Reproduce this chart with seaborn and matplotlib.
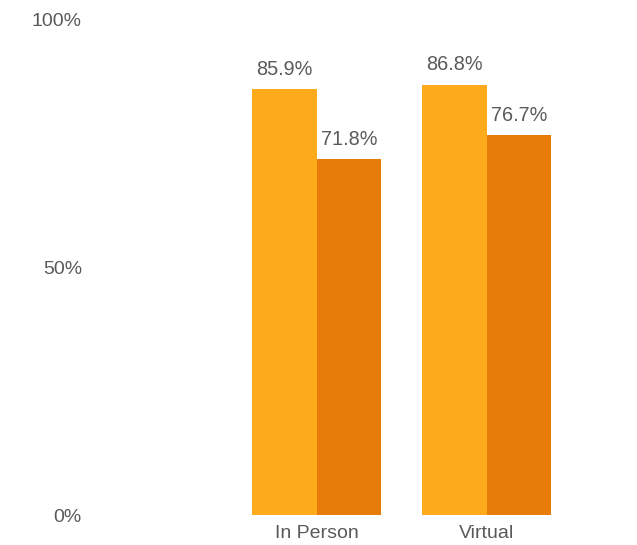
import matplotlib
matplotlib.use("Agg")
import matplotlib.pyplot as plt
import seaborn as sns
import pandas as pd

# Data
categories = ["In Person", "Virtual"]
series = ["Series 1", "Series 2"]
series1_values = [85.9, 86.8]
series2_values = [71.8, 76.7]
y_ticks = [0, 50, 100]
y_tick_labels = ["0%", "50%", "100%"]

colors = ["#FDAB1B", "#E87C0A"]
text_color = "#5a5a5a"

sns.set_theme(style="white")
plt.rcParams["font.family"] = ["Liberation Sans", "DejaVu Sans"]

df = pd.DataFrame({
    "category": categories * 2,
    "series": [series[0]] * len(categories) + [series[1]] * len(categories),
    "value": series1_values + series2_values,
})

W, H = 637, 545
fig = plt.figure(figsize=(W / 100, H / 100), dpi=100)
left_px, right_px, bottom_px, top_px = 90, 637, 30, 525.5
ax = fig.add_axes([left_px / W, bottom_px / H, (right_px - left_px) / W, (top_px - bottom_px) / H])

sns.barplot(data=df, x="category", y="value", hue="series", order=categories,
            hue_order=series, palette=colors, width=0.76, saturation=1,
            linewidth=0, edgecolor="none", legend=False, ax=ax)

for container in ax.containers:
    ax.bar_label(container, fmt="%.1f%%", padding=7.5, fontsize=14.3, color=text_color)

ax.set_ylim(0, 100)
ax.set_yticks(y_ticks)
ax.set_yticklabels(y_tick_labels)
unit_px = 170
ax.set_xlim(-(316.7 - left_px) / unit_px, (right_px - 316.7) / unit_px)

ax.set_xlabel("")
ax.set_ylabel("")
ax.tick_params(axis="both", length=0, labelsize=14, labelcolor=text_color)
ax.tick_params(axis="y", pad=5.8)
ax.tick_params(axis="x", pad=7)
for side in ["left", "right", "top", "bottom"]:
    ax.spines[side].set_visible(False)
ax.grid(False)

fig.savefig("out.png", dpi=100, facecolor="white")
